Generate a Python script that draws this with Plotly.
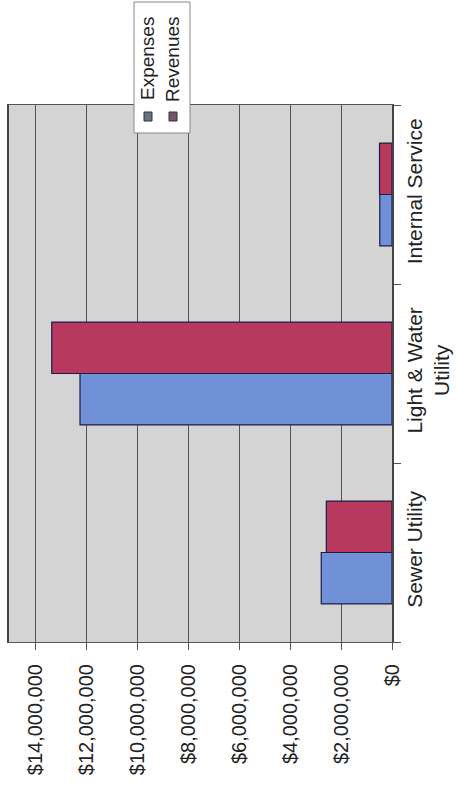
import plotly.graph_objects as go

categories = ["Sewer Utility", "Light & Water<br>Utility", "Internal Service"]
expenses = [2780000, 12260000, 480000]
revenues = [2580000, 13370000, 490000]
series_names = ["Expenses", "Revenues"]
tick_values = [0, 2000000, 4000000, 6000000, 8000000, 10000000, 12000000, 14000000]
tick_labels = ["$0", "$2,000,000", "$4,000,000", "$6,000,000", "$8,000,000",
               "$10,000,000", "$12,000,000", "$14,000,000"]

W, H = 457, 797
L, R, T, B = 9, 65, 105, 155
pw, ph = W - L - R, H - T - B

def px(x):
    return (x - L) / pw

def py(y):
    return (H - B - y) / ph

blue = "#7090d8"
red = "#b8395e"
font = "Liberation Sans, Arial, sans-serif"

fig = go.Figure()
fig.add_trace(go.Bar(y=categories, x=expenses, orientation="h", name=series_names[0],
                     marker=dict(color=blue, line=dict(color="#1c1c48", width=1.2))))
fig.add_trace(go.Bar(y=categories, x=revenues, orientation="h", name=series_names[1],
                     marker=dict(color=red, line=dict(color="#1c1c48", width=1.2))))

fig.update_layout(
    width=W, height=H,
    margin=dict(l=L, r=R, t=T, b=B, pad=0, autoexpand=False),
    paper_bgcolor="white", plot_bgcolor="#d4d4d4",
    barmode="group", bargap=0.425, bargroupgap=0,
    showlegend=False,
    font=dict(family=font, color="#222222"),
    xaxis=dict(range=[15050000, 0], tickvals=tick_values, ticktext=tick_labels,
               tickangle=-90, tickfont=dict(size=20), ticklabelstandoff=6,
               automargin=False,
               showgrid=True, gridcolor="#555555", gridwidth=1,
               ticks="outside", ticklen=7, tickcolor="#555555",
               showline=True, linecolor="#555555", linewidth=1, mirror=True,
               zeroline=False, fixedrange=True),
    yaxis=dict(side="right", tickangle=-90, tickfont=dict(size=21), ticklabelstandoff=3,
               automargin=False,
               ticks="outside", ticklen=7, tickcolor="#555555", tickson="boundaries",
               showline=True, linecolor="#444444", linewidth=1.5, mirror=True,
               showgrid=False, zeroline=False, fixedrange=True),
)

# Legend (rotated, drawn manually)
fig.add_shape(type="rect", xref="paper", yref="paper",
              x0=px(134), x1=px(190), y0=py(133), y1=py(2),
              fillcolor="white", line=dict(color="#888888", width=1), layer="above")
legend_x = [148, 173]
legend_colors = ["#6b7286", "#74566a"]
for name, lx, col in zip(series_names, legend_x, legend_colors):
    fig.add_shape(type="rect", xref="paper", yref="paper",
                  x0=px(lx - 4), x1=px(lx + 4), y0=py(121), y1=py(112),
                  fillcolor=col, line=dict(color="#333333", width=1), layer="above")
    fig.add_annotation(xref="paper", yref="paper", x=px(lx), y=py(59),
                       text=name, textangle=-90, showarrow=False,
                       xanchor="center", yanchor="middle",
                       font=dict(size=19, family=font, color="#222222"))

fig.write_html("out.html")
